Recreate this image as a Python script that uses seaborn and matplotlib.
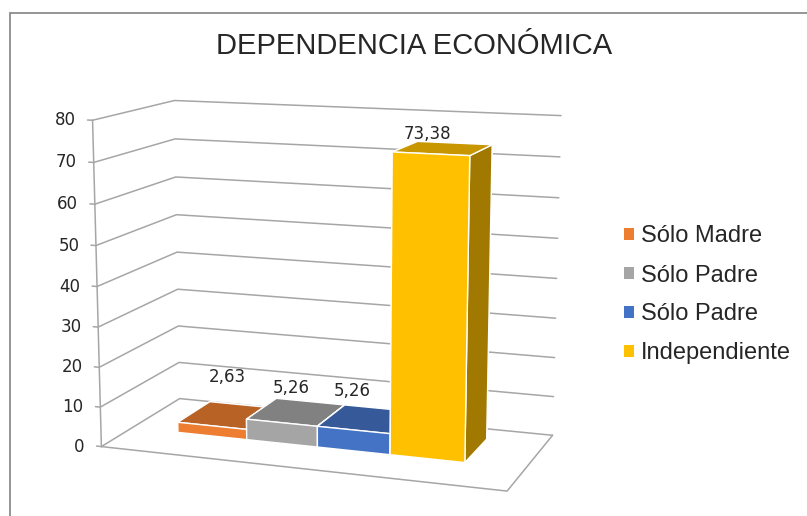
import numpy as np
import matplotlib
matplotlib.use('Agg')
import matplotlib.pyplot as plt
import seaborn as sns
from matplotlib.patches import Patch, Rectangle

# datos del grafico
categorias = ['Sólo Madre', 'Sólo Padre', 'Sólo Padre', 'Independiente']
valores = [2.63, 5.26, 5.26, 73.38]
etiquetas = ['2,63', '5,26', '5,26', '73,38']
colores_hex = ['#ED7D31', '#A5A5A5', '#4472C4', '#FFC000']
ticks_z = [0, 10, 20, 30, 40, 50, 60, 70, 80]

W_PX, H_PX = 807, 516

sns.set_theme(style='white')
plt.rcParams['font.family'] = ['Liberation Sans', 'DejaVu Sans']
colores = sns.color_palette(colores_hex)

fig = plt.figure(figsize=(8.07, 5.16), dpi=100)

# marco del area del grafico
fig.add_artist(Rectangle((10 / W_PX, -0.1), 1.2, 1 - 13 / H_PX + 0.1, transform=fig.transFigure,
                         fill=False, edgecolor='#8c8c8c', lw=1.3))

# camara ajustada para imitar la vista 3D de Excel
ax = fig.add_axes([0.0578, -0.0952, 0.6822, 1.0669], projection='3d')
ax.set_proj_type('persp', focal_length=0.605)
ax.view_init(elev=11.84, azim=-70.4)
ax.set_box_aspect((1, 0.456, 0.786))
ax.set_xlim(0, 1)
ax.set_ylim(0, 1)
ax.set_zlim(0, 80)
ax.computed_zorder = False
ax.set_axis_off()


def proyectar(X):
    M = ax.get_proj()
    v = M @ np.vstack([np.asarray(X, float).T, np.ones(len(X))])
    return np.column_stack([v[0] / v[3], v[1] / v[3]])


# paredes: lineas de division en pared izquierda y fondo, eje y piso
gris = '#a6a6a6'
for z in ticks_z:
    ax.plot([0, 0, 1], [0, 1, 1], [z, z, z], color=gris, lw=1.1, zorder=1)
    ax.plot([-0.013, 0], [0, 0], [z, z], color=gris, lw=1.1, zorder=1)
ax.plot([0, 0], [0, 0], [0, 80], color=gris, lw=1.1, zorder=1)
ax.plot([0, 1, 1], [0, 0, 1], [0, 0, 0], color=gris, lw=1.1, zorder=1)

# barras 3d (caras -z, +z, -y, +y, -x, +x)
inicio, ancho, fondo0, fondo1 = 0.124, 0.732, 0.374, 0.812
n = len(valores)
xs = inicio + np.arange(n) * ancho / n
caras = []
for c in colores:
    frente = np.array(c)
    caras += [frente * 0.78, frente * 0.78, frente, frente * 0.63, frente * 0.63, frente * 0.63]
ax.bar3d(xs, np.full(n, fondo0), np.zeros(n), ancho / n, fondo1 - fondo0, valores,
         color=caras, shade=False, zorder=2)

fuente_num = ['DejaVu Sans']
pt_ticks = proyectar([[0, 0, z] for z in ticks_z])
for (px, py), z in zip(pt_ticks, ticks_z):
    ax.annotate(str(z), xy=(px, py), xycoords='data', xytext=(-12, 0), textcoords='offset points',
                ha='right', va='center', fontsize=12, family=fuente_num, color='#262626')

# etiquetas de datos sobre cada barra
desplaz = [(0, 21), (-3.6, 11), (-10.8, 13.9), (-11.5, 3.8)]
pt_top = proyectar([[x + ancho / n / 2, (fondo0 + fondo1) / 2, v] for x, v in zip(xs, valores)])
for (px, py), t_, d in zip(pt_top, etiquetas, desplaz):
    ax.annotate(t_, xy=(px, py), xycoords='data', xytext=d, textcoords='offset points',
                ha='center', va='bottom', fontsize=12, family=fuente_num, color='#262626',
                zorder=10)

fig.text(414 / W_PX, 1 - 46 / H_PX, 'DEPENDENCIA ECONÓMICA', ha='center', va='center',
         fontsize=21, color='#262626')

handles = [Patch(facecolor=c, edgecolor='none') for c in colores]
fig.legend(handles=handles, labels=categorias, loc='center left',
           bbox_to_anchor=(624 / W_PX, 1 - 295 / H_PX), frameon=False, fontsize=17,
           handlelength=0.42, handleheight=0.42, handletextpad=0.3, labelspacing=0.72,
           borderpad=0, borderaxespad=0)

fig.savefig('out.png', dpi=100)
